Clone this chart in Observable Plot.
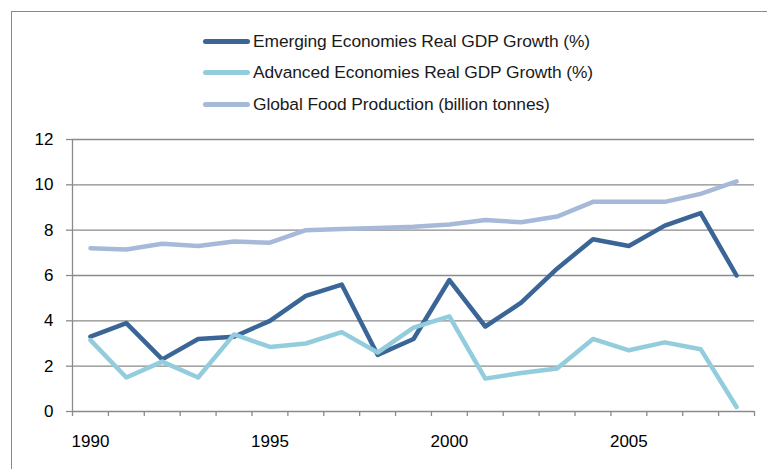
<!DOCTYPE html>
<html>
<head>
<meta charset="utf-8">
<script src="https://cdn.jsdelivr.net/npm/d3@7"></script>
<script src="https://cdn.jsdelivr.net/npm/@observablehq/plot@0.6"></script>
<style>
  html, body { margin: 0; padding: 0; background: #fff; }
  #wrap { position: relative; width: 767px; height: 469px; overflow: hidden; font-family: "Liberation Sans", Arial, sans-serif; }
  #frame { position: absolute; left: 10.5px; top: 11px; width: 800px; height: 500px; border-left: 1.5px solid #8a8a8a; border-top: 1.5px solid #8a8a8a; box-sizing: border-box; }
  #legend { position: relative; height: 125px; }
  .row { position: absolute; left: 203px; height: 20px; display: flex; align-items: center; }
  .sw { width: 47px; height: 5px; border-radius: 3px; margin-right: 3px; }
  .lab { font-size: 17.4px; color: #1a1a1a; white-space: nowrap; letter-spacing: -0.1px; }
  #chart svg { display: block; }
</style>
</head>
<body>
<div id="wrap">
  <div id="frame"></div>
  <div id="legend"></div>
  <div id="chart"></div>
</div>
<script>
const years = [1990,1991,1992,1993,1994,1995,1996,1997,1998,1999,2000,2001,2002,2003,2004,2005,2006,2007,2008];
const seriesNames = [
  "Emerging Economies Real GDP Growth (%)",
  "Advanced Economies Real GDP Growth (%)",
  "Global Food Production (billion tonnes)"
];
const emerging = [3.3,3.9,2.3,3.2,3.3,4.0,5.1,5.6,2.5,3.2,5.8,3.75,4.8,6.3,7.6,7.3,8.2,8.75,6.0];
const advanced = [3.15,1.5,2.2,1.5,3.4,2.85,3.0,3.5,2.6,3.7,4.2,1.45,1.7,1.9,3.2,2.7,3.05,2.75,0.2];
const food     = [7.2,7.15,7.4,7.3,7.5,7.45,8.0,8.05,8.1,8.15,8.25,8.45,8.35,8.6,9.25,9.25,9.25,9.6,10.15];
const yTicks = [0,2,4,6,8,10,12];
const xLabelTicks = [1990,1995,2000,2005];
const colors = ["#3a6596", "#93cddd", "#a7b9d8"];

const seriesValues = [emerging, advanced, food];
const data = seriesValues.flatMap((vals, s) => vals.map((v, i) => ({year: years[i], value: v, series: seriesNames[s]})));
const boundaries = years.map(y => y - 0.5).concat([years[years.length - 1] + 0.5]);

// Legend
const legend = document.getElementById("legend");
seriesNames.forEach((name, i) => {
  const row = document.createElement("div");
  row.className = "row";
  row.style.top = (31 + i * 31.5) + "px";
  row.innerHTML = `<div class="sw" style="background:${colors[i]}"></div><div class="lab">${name}</div>`;
  legend.appendChild(row);
});

const grid = "#8a8a8a";
const chart = Plot.plot({
  width: 767,
  height: 344,
  marginLeft: 72,
  marginRight: 13,
  marginTop: 14,
  marginBottom: 58,
  style: {fontFamily: "'Liberation Sans', Arial, sans-serif", fontSize: "17px", background: "transparent", overflow: "visible"},
  x: {domain: [boundaries[0], boundaries[boundaries.length - 1]], axis: null},
  y: {domain: [0, 12], axis: null},
  color: {domain: seriesNames, range: colors},
  marks: [
    Plot.ruleY(yTicks, {stroke: grid, strokeWidth: 1.3}),
    Plot.ruleX([boundaries[0]], {stroke: grid, strokeWidth: 1.3, y1: 0, y2: 12}),
    Plot.axisY({ticks: yTicks, tickSize: 6, tickPadding: 13, stroke: grid, strokeWidth: 1.3, fill: "#000", fontSize: 17, anchor: "left", label: null}),
    Plot.axisX({ticks: boundaries, tickSize: 5, tickFormat: () => "", stroke: grid, strokeWidth: 1.3, anchor: "bottom", label: null}),
    Plot.axisX({ticks: xLabelTicks, tickSize: 0, tickPadding: 23, tickFormat: d => String(d), fill: "#000", fontSize: 17, anchor: "bottom", label: null}),
    Plot.line(data, {x: "year", y: "value", z: "series", stroke: "series", strokeWidth: 4.5, strokeLinecap: "round", strokeLinejoin: "round"})
  ]
});
document.getElementById("chart").appendChild(chart);
</script>
</body>
</html>
